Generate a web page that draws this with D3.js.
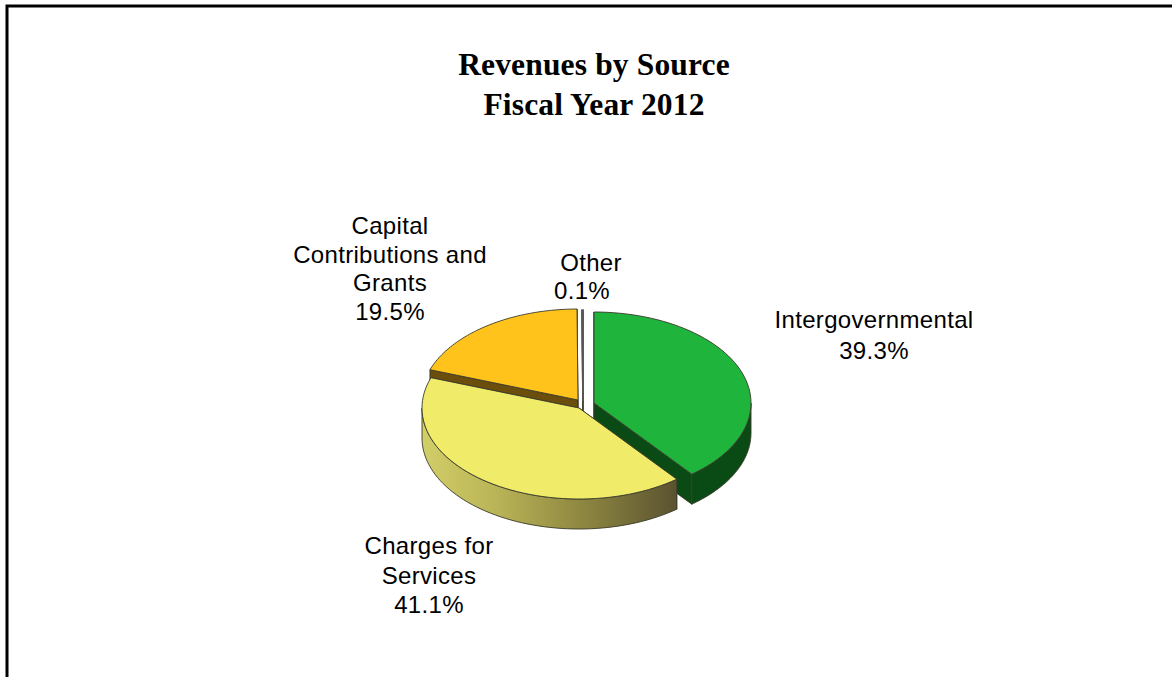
<!DOCTYPE html>
<html>
<head>
<meta charset="utf-8">
<script src="https://cdn.jsdelivr.net/npm/d3@7"></script>
<style>
html,body{margin:0;padding:0;background:#fff;}
svg{display:block;}
</style>
</head>
<body>
<svg id="chart" width="1172" height="677"></svg>
<script>
// Revenue shares, percent of total
const categories = ["Intergovernmental", "Charges for Services", "Capital Contributions and Grants", "Other"];
const shares = [39.3, 41.1, 19.5, 0.1];
const labelLines = [
  ["Intergovernmental", "39.3%"],
  ["Charges for", "Services", "41.1%"],
  ["Capital", "Contributions and", "Grants", "19.5%"],
  ["Other", "0.1%"]
];
const titleLines = ["Revenues by Source", "Fiscal Year 2012"];

// Slice styling and layout, in the same order as the categories
const topColors = ["#1fb43c", "#f0ec6a", "#ffc31b", "#ffffff"];
const wallColors = ["#0a4a15", "#6a6233", "#6b4e0c", "#ffffff"];
const sliceCenters = [[594, 403], [579, 408], [578, 400], [583, 401]];
const labelCenters = [[874, 328], [429, 554], [390, 234], [586, 271]];
const labelLeading = [30.5, 29.5, 28.5, 28];
// The percentage under "Other" sits left of its name
const lineShifts = [[0, 0], [0, 0, 0], [0, 0, 0, 0], [5, -4]];
const paintOrder = [3, 2, 0, 1];

const rx = 157, ry = 91, depth = 30;

const svg = d3.select("#chart");

// Frame: only the top and left edges fall inside the canvas
svg.append("path")
  .attr("d", "M7 677V6H1172")
  .attr("fill", "none").attr("stroke", "#000").attr("stroke-width", 3);

const defs = svg.append("defs");
const wallGradient = defs.append("linearGradient")
  .attr("id", "yellowWall").attr("gradientUnits", "userSpaceOnUse");
wallGradient.selectAll("stop")
  .data([[0, "#d2ce68"], [0.3, "#b8b356"], [0.65, "#8b8440"], [1, "#5a5230"]])
  .join("stop")
  .attr("offset", d => d[0]).attr("stop-color", d => d[1]);

// Pie layout keeps category order, clockwise from twelve o'clock
const pie = d3.pie().sort(null).value(d => d)(shares);

const ellipseX = d3.scaleLinear().domain([-1, 1]);
const ellipseY = d3.scaleLinear().domain([-1, 1]);
const onRim = (i, angle, drop = 0) => {
  const [cx, cy] = sliceCenters[i];
  ellipseX.range([cx - rx, cx + rx]);
  ellipseY.range([cy - ry + drop, cy + ry + drop]);
  return [ellipseX(Math.sin(angle)), ellipseY(-Math.cos(angle))];
};
const line = d3.line();
const rimPoints = (a0, a1, i, drop) =>
  d3.range(0, 61).map(k => onRim(i, a0 + (a1 - a0) * k / 60, drop));

const outline = { stroke: "#3a3a2a", width: 0.9 };

paintOrder.forEach(i => {
  const s = pie[i];
  const [cx, cy] = sliceCenters[i];
  const g = svg.append("g").attr("class", "slice");
  const apex = [cx, cy];
  const apexLow = [cx, cy + depth];

  // Radial cut faces
  [s.startAngle, s.endAngle].forEach(a => {
    g.append("path")
      .attr("d", line([apex, onRim(i, a), onRim(i, a, depth), apexLow]) + "Z")
      .attr("fill", wallColors[i])
      .attr("stroke", outline.stroke).attr("stroke-width", outline.width);
  });

  // Outer wall, front half of the rim only
  const a0 = Math.max(s.startAngle, Math.PI / 2);
  const a1 = Math.min(s.endAngle, 3 * Math.PI / 2);
  if (a1 > a0) {
    const wall = rimPoints(a0, a1, i, 0).concat(rimPoints(a1, a0, i, depth));
    if (i === 1) {
      wallGradient.attr("x1", cx - rx).attr("x2", onRim(i, s.startAngle)[0])
        .attr("y1", 0).attr("y2", 0);
    }
    g.append("path")
      .attr("d", line(wall) + "Z")
      .attr("fill", i === 1 ? "url(#yellowWall)" : wallColors[i])
      .attr("stroke", outline.stroke).attr("stroke-width", outline.width);
  }

  // Top face
  const top = [apex].concat(rimPoints(s.startAngle, s.endAngle, i, 0));
  g.append("path")
    .attr("d", line(top) + "Z")
    .attr("fill", topColors[i])
    .attr("stroke", i === 3 ? "#555" : outline.stroke)
    .attr("stroke-width", i === 3 ? 1.6 : outline.width);
});

// Slice labels
const labels = svg.append("g")
  .attr("font-family", "'Liberation Sans', Arial, sans-serif")
  .attr("font-size", 24).attr("letter-spacing", 0.33)
  .attr("fill", "#000").attr("text-anchor", "middle");
labelLines.forEach((lines, i) => {
  const [x, y] = labelCenters[i];
  lines.forEach((t, k) => {
    labels.append("text")
      .attr("x", x + lineShifts[i][k])
      .attr("y", y + k * labelLeading[i])
      .text(t);
  });
});

// Title
const title = svg.append("g")
  .attr("font-family", "'Liberation Serif', 'Times New Roman', serif")
  .attr("font-size", 31.5).attr("font-weight", "bold").attr("letter-spacing", 0.15)
  .attr("fill", "#000").attr("text-anchor", "middle");
titleLines.forEach((t, k) => {
  title.append("text").attr("x", 594).attr("y", 75 + k * 40).text(t);
});
</script>
</body>
</html>
